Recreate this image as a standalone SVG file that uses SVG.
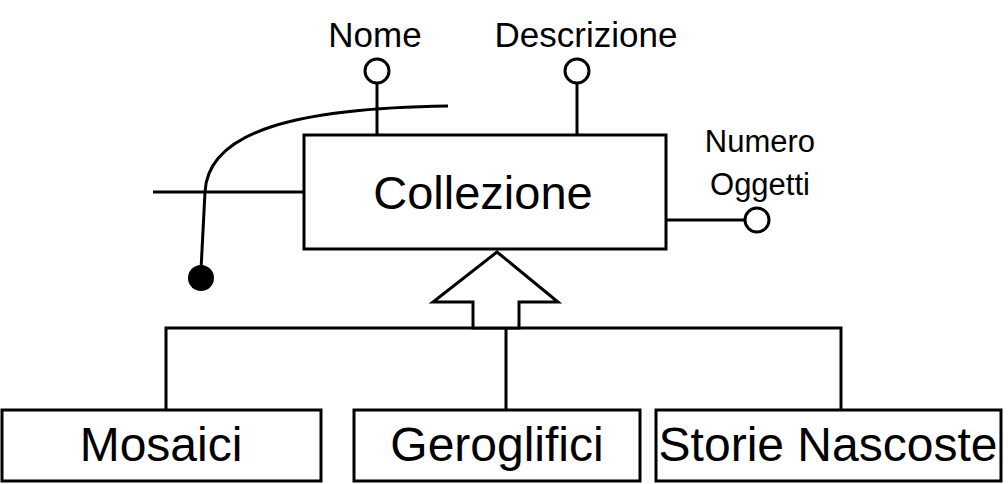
<svg xmlns="http://www.w3.org/2000/svg" width="1008" height="484" viewBox="0 0 1008 484">
<style>
.ln{fill:none;stroke:#000;stroke-width:3}
.bx{fill:#fff;stroke:#000;stroke-width:3}
.at{fill:#fff;stroke:#000;stroke-width:3}
text{font-family:"Liberation Sans",Arial,sans-serif;fill:#000}
.big{font-size:48px;text-anchor:middle}
.mid{font-size:35px;text-anchor:middle}
.sm{font-size:31px;text-anchor:middle}
</style>
<rect width="1008" height="484" fill="#fff"/>
<g id="connectors">
<line class="ln" x1="377" y1="83" x2="377" y2="135"/>
<line class="ln" x1="577" y1="83" x2="577" y2="135"/>
<line class="ln" x1="666" y1="220" x2="745" y2="220"/>
<line class="ln" x1="153" y1="192" x2="304" y2="192"/>
<path class="ln" d="M448,106 C300,108 208,130 205,192 L201,270"/>
<circle cx="201" cy="278" r="13" fill="#000"/>
<path class="ln" d="M166,410 L166,328 L841,328 L841,410"/>
<line class="ln" x1="506" y1="328" x2="506" y2="410"/>
<path class="at" d="M497,252 L433,302 L473,302 L473,328 L519,328 L519,302 L558,302 Z"/>
</g>
<g id="collezione">
<rect class="bx" x="304" y="135" width="362" height="114"/>
<text class="big" style="font-size:47px" x="483" y="209">Collezione</text>
</g>
<g id="nome">
<circle class="at" cx="377" cy="71" r="12"/>
<text class="mid" x="375" y="47">Nome</text>
</g>
<g id="descrizione">
<circle class="at" cx="577" cy="71" r="12"/>
<text class="mid" x="586" y="47">Descrizione</text>
</g>
<g id="numero-oggetti">
<circle class="at" cx="757" cy="220" r="12"/>
<text class="sm" x="760" y="152">Numero</text>
<text class="sm" x="760" y="195">Oggetti</text>
</g>
<g id="mosaici">
<rect class="bx" x="2" y="410" width="319" height="71"/>
<text class="big" x="161" y="461">Mosaici</text>
</g>
<g id="geroglifici">
<rect class="bx" x="354" y="410" width="286" height="71"/>
<text class="big" x="497" y="461">Geroglifici</text>
</g>
<g id="storie-nascoste">
<rect class="bx" x="656" y="410" width="345" height="71" stroke-width="4"/>
<text class="big" x="828" y="461">Storie Nascoste</text>
</g>
</svg>
